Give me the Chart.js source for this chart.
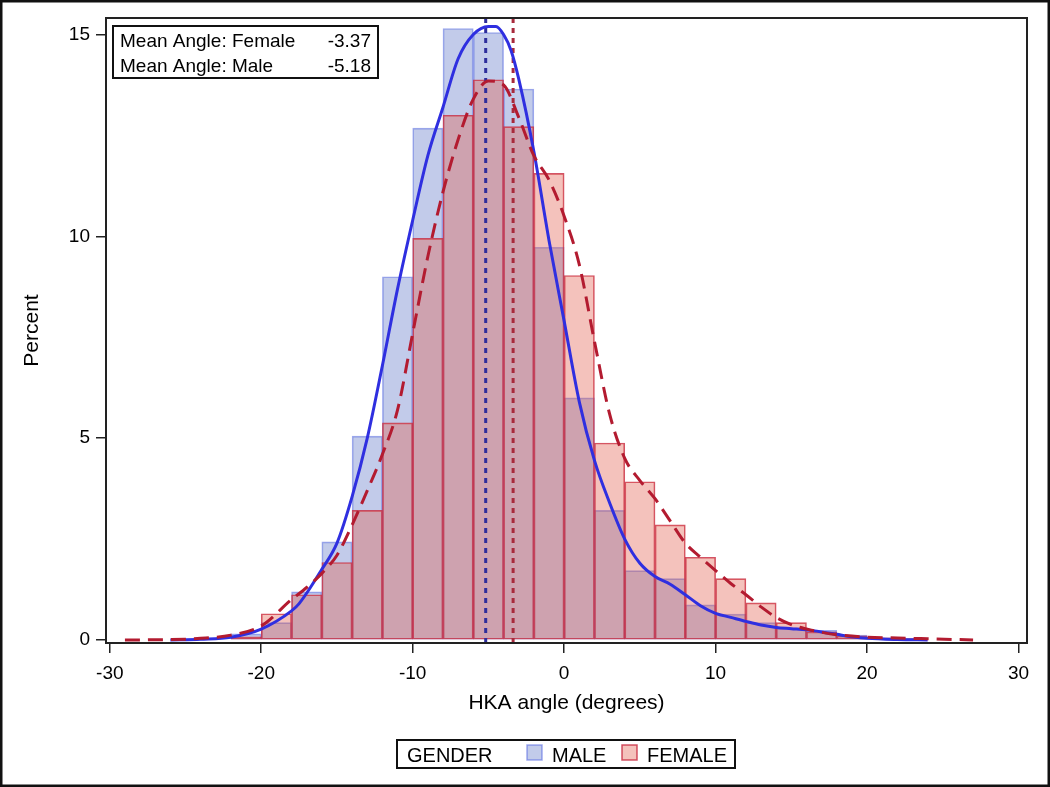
<!DOCTYPE html>
<html>
<head>
<meta charset="utf-8">
<script src="https://cdn.jsdelivr.net/npm/chart.js@4.4.1/dist/chart.umd.min.js"></script>
<style>
  html, body { margin: 0; padding: 0; background: #fff; }
</style>
</head>
<body>
<canvas id="hka" width="1050" height="787"></canvas>
<script>
// histogram bins (width 2 degrees), percent per gender
const binCenters = [-21, -19, -17, -15, -13, -11, -9, -7, -5, -3, -1, 1, 3, 5, 7, 9, 11, 13, 15, 17, 19, 21, 23];
const male   = [0.15, 0.43, 1.19, 2.43, 5.05, 9.0, 12.68, 15.15, 15.05, 13.65, 9.73, 6.0, 3.21, 1.72, 1.52, 0.87, 0.64, 0.43, 0.3, 0.24, 0.12, 0.05, 0.03];
const female = [0.08, 0.65, 1.12, 1.92, 3.21, 5.38, 9.95, 13.0, 13.88, 12.72, 11.56, 9.03, 4.88, 3.92, 2.85, 2.05, 1.52, 0.92, 0.43, 0.2, 0.1, 0.05, 0.04];

// kernel density curves
const kdeMaleX = [-26, -24, -22, -20, -18, -17.5, -16, -15, -14, -13, -12, -11, -10, -9, -8, -7, -6, -5, -4.5, -4, -3.5, -3, -2, -1, 0, 1, 2, 3, 4, 5, 6, 7, 8, 9, 10, 11, 12, 13, 14, 15, 16, 17, 18, 19, 20, 22, 24];
const kdeMaleY = [0.0, 0.02, 0.07, 0.27, 0.72, 0.9, 1.75, 2.4, 3.55, 5.0, 6.8, 8.7, 10.4, 12.0, 13.2, 14.4, 15.0, 15.2, 15.2, 15.0, 14.6, 13.9, 12.1, 9.9, 7.9, 5.9, 4.45, 3.4, 2.5, 1.9, 1.57, 1.38, 1.12, 0.85, 0.66, 0.56, 0.46, 0.37, 0.31, 0.28, 0.25, 0.2, 0.14, 0.08, 0.04, 0.01, 0.0];
const kdeFemaleX = [-29, -26, -24, -22, -20, -18, -17, -16, -15, -14, -13, -12, -11, -10, -9, -8, -7, -6, -5, -4, -3, -2, -1, 0, 1, 2, 3, 4, 5, 6, 7, 8, 9, 10, 11, 12, 13, 14, 15, 16, 17, 18, 20, 22, 24, 27];
const kdeFemaleY = [0.0, 0.01, 0.04, 0.12, 0.35, 1.0, 1.3, 1.65, 2.1, 2.85, 3.7, 4.6, 5.7, 7.6, 9.5, 11.1, 12.4, 13.4, 13.85, 13.75, 12.95, 12.0, 11.4, 10.5, 9.3, 7.4, 5.6, 4.5, 3.95, 3.5, 2.95, 2.4, 2.05, 1.72, 1.4, 1.12, 0.82, 0.56, 0.38, 0.27, 0.19, 0.13, 0.07, 0.05, 0.03, 0.0];

const meanFemale = -3.37;
const meanMale = -5.18;

const xTicks = [-30, -20, -10, 0, 10, 20, 30];
const yTicks = [0, 5, 10, 15];
const xMin = -30.25, xMax = 30.56;
const yMin = -0.075, yMax = 15.41;

const FONT = "'Liberation Sans', Arial, sans-serif";
const maleFill = 'rgba(110,130,205,0.42)';
const maleEdge = 'rgba(80,100,225,0.55)';
const femaleFill = 'rgba(225,95,80,0.38)';
const femaleEdge = 'rgba(200,40,62,0.8)';

function pts(xs, ys) {
  return xs.map((x, i) => ({ x: x, y: ys[i] }));
}

// frame, inset box, bottom legend, outer border
const decor = {
  id: 'decor',
  afterDraw(chart) {
    const ctx = chart.ctx;
    const a = chart.chartArea;
    ctx.save();

    ctx.strokeStyle = '#222';
    ctx.lineWidth = 2;
    ctx.strokeRect(a.left, a.top, a.right - a.left, a.bottom - a.top);

    // inset with means
    const bx = a.left + 7, by = a.top + 8;
    ctx.fillStyle = '#fff';
    ctx.fillRect(bx, by, 265, 52);
    ctx.strokeStyle = '#111';
    ctx.strokeRect(bx, by, 265, 52);
    ctx.fillStyle = '#000';
    ctx.font = '19px ' + FONT;
    ctx.textBaseline = 'alphabetic';
    ctx.textAlign = 'left';
    ctx.fillText('Mean Angle: Female', bx + 7, by + 21);
    ctx.fillText('Mean Angle: Male', bx + 7, by + 46);
    ctx.textAlign = 'right';
    ctx.fillText(meanFemale.toFixed(2), bx + 258, by + 21);
    ctx.fillText(meanMale.toFixed(2), bx + 258, by + 46);

    // legend
    const lx = 397, ly = 740;
    ctx.lineWidth = 2;
    ctx.strokeStyle = '#111';
    ctx.strokeRect(lx, ly, 338, 28);
    ctx.font = '20px ' + FONT;
    ctx.textAlign = 'left';
    ctx.fillStyle = '#000';
    ctx.fillText('GENDER', lx + 10, ly + 22);
    ctx.lineWidth = 1.5;
    ctx.fillStyle = maleFill;
    ctx.fillRect(lx + 130, ly + 5, 15, 15);
    ctx.strokeStyle = maleEdge;
    ctx.strokeRect(lx + 130, ly + 5, 15, 15);
    ctx.fillStyle = '#000';
    ctx.fillText('MALE', lx + 155, ly + 22);
    ctx.fillStyle = femaleFill;
    ctx.fillRect(lx + 225, ly + 5, 15, 15);
    ctx.strokeStyle = femaleEdge;
    ctx.strokeRect(lx + 225, ly + 5, 15, 15);
    ctx.fillStyle = '#000';
    ctx.fillText('FEMALE', lx + 250, ly + 22);

    // outer border
    ctx.lineWidth = 2.5;
    ctx.strokeStyle = '#111';
    ctx.strokeRect(1.25, 1.25, chart.width - 2.5, chart.height - 2.5);
    ctx.restore();
  }
};

const barCommon = {
  type: 'bar',
  borderWidth: 1,
  borderSkipped: false,
  grouped: false,
  barPercentage: 1,
  categoryPercentage: 1
};

const config = {
  type: 'bar',
  data: {
    datasets: [
      Object.assign({}, barCommon, {
        label: 'MALE',
        data: pts(binCenters, male),
        backgroundColor: maleFill,
        borderColor: maleEdge,
        order: 5
      }),
      Object.assign({}, barCommon, {
        label: 'FEMALE',
        data: pts(binCenters, female),
        backgroundColor: femaleFill,
        borderColor: femaleEdge,
        order: 4
      }),
      {
        type: 'line',
        label: 'Mean Male',
        data: [{ x: meanMale, y: yMin }, { x: meanMale, y: yMax }],
        borderColor: '#2d2d9c',
        borderWidth: 3,
        borderDash: [5, 5],
        pointRadius: 0,
        order: 3
      },
      {
        type: 'line',
        label: 'Mean Female',
        data: [{ x: meanFemale, y: yMin }, { x: meanFemale, y: yMax }],
        borderColor: '#a82a3c',
        borderWidth: 3,
        borderDash: [5, 5],
        pointRadius: 0,
        order: 2
      },
      {
        type: 'line',
        label: 'Male density',
        data: pts(kdeMaleX, kdeMaleY),
        borderColor: '#2f2fe0',
        borderWidth: 3,
        pointRadius: 0,
        cubicInterpolationMode: 'monotone',
        order: 1
      },
      {
        type: 'line',
        label: 'Female density',
        data: pts(kdeFemaleX, kdeFemaleY),
        borderColor: '#b31b30',
        borderWidth: 3,
        borderDash: [15, 8],
        pointRadius: 0,
        cubicInterpolationMode: 'monotone',
        order: 0
      }
    ]
  },
  options: {
    responsive: false,
    animation: false,
    devicePixelRatio: 1,
    layout: { padding: { left: 0, top: 18, right: 23, bottom: 0 } },
    plugins: {
      legend: { display: false },
      tooltip: { enabled: false }
    },
    scales: {
      x: {
        type: 'linear',
        min: xMin,
        max: xMax,
        offset: false,
        afterBuildTicks: s => { s.ticks = xTicks.map(v => ({ value: v })); },
        afterFit: s => { s.height = 144; },
        grid: { drawOnChartArea: false, drawTicks: true, tickLength: 10, color: '#222', lineWidth: 1.5, offset: false },
        border: { display: false },
        ticks: { font: { family: FONT, size: 19 }, color: '#000', padding: 9, maxRotation: 0, autoSkip: false },
        title: { display: true, text: 'HKA angle (degrees)', color: '#000', font: { family: FONT, size: 21 }, padding: { top: 0, bottom: 71 } }
      },
      y: {
        type: 'linear',
        min: yMin,
        max: yMax,
        afterBuildTicks: s => { s.ticks = yTicks.map(v => ({ value: v })); },
        afterFit: s => { s.width = 106; },
        grid: { drawOnChartArea: false, drawTicks: true, tickLength: 10, color: '#222', lineWidth: 1.5 },
        border: { display: false },
        ticks: { font: { family: FONT, size: 19 }, color: '#000', padding: 6 },
        title: { display: true, text: 'Percent', color: '#000', font: { family: FONT, size: 21 }, padding: { top: 20, bottom: 0 } }
      }
    }
  },
  plugins: [decor]
};

new Chart(document.getElementById('hka').getContext('2d'), config);
</script>
</body>
</html>
